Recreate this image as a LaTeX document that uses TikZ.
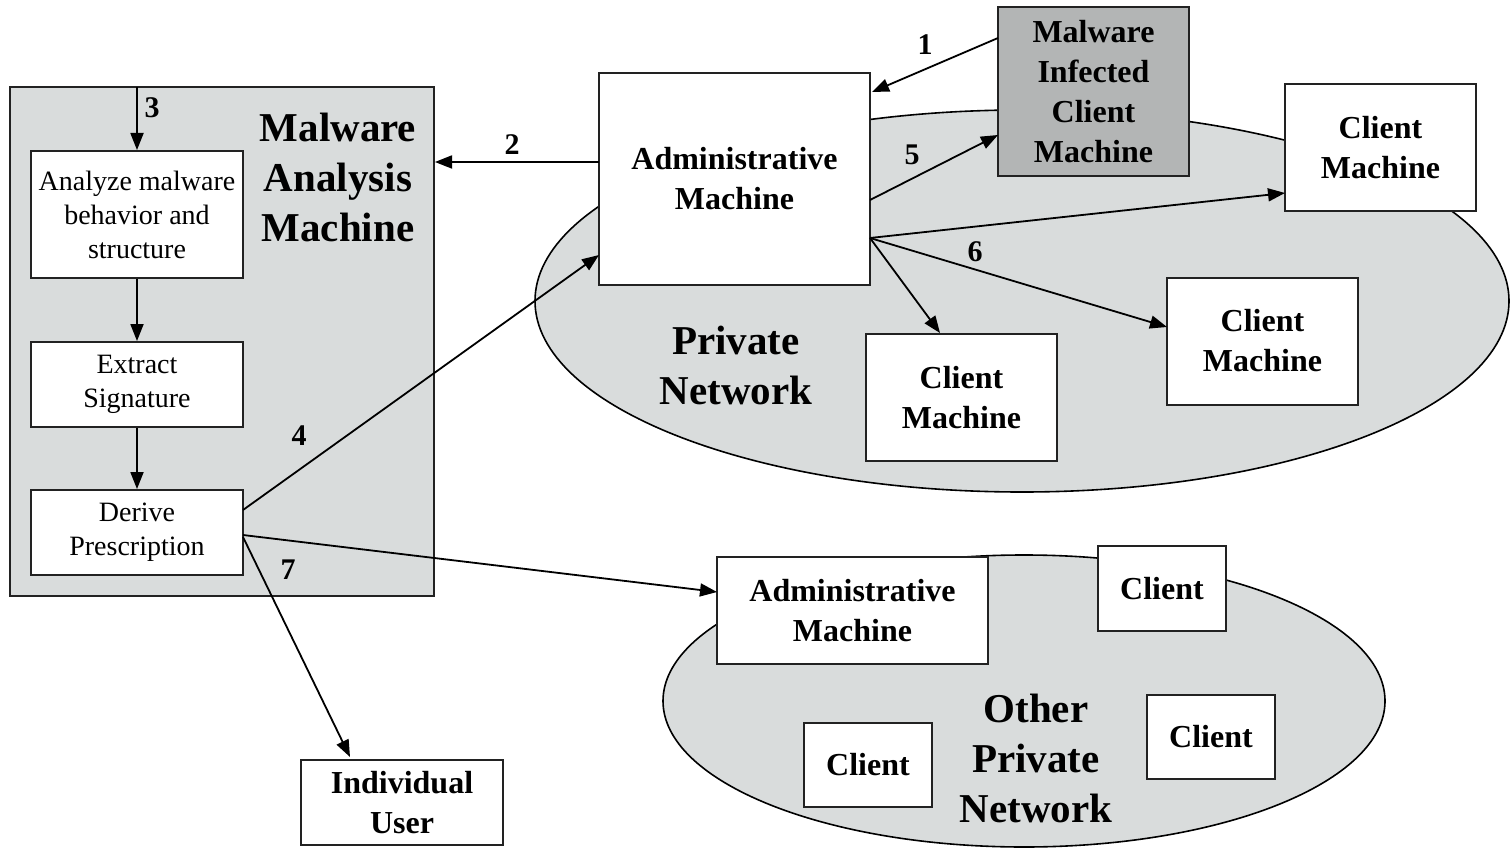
\documentclass[tikz,border=0pt]{standalone}
\usepackage{fontspec}
\setmainfont{Liberation Serif}
\usetikzlibrary{arrows.meta,calc,shapes.geometric}
\definecolor{panel}{HTML}{D9DCDC}
\definecolor{infect}{HTML}{B3B5B5}
\definecolor{edge}{HTML}{222222}
\tikzset{
  box/.style={draw=edge, line width=2pt, fill=white, inner sep=0pt, align=center},
  bigbold/.style={font=\fontsize{41}{50}\selectfont\bfseries, align=center, inner sep=0pt},
  midbold/.style={font=\fontsize{32}{40}\selectfont\bfseries},
  plain/.style={font=\fontsize{28}{34}\selectfont},
  numlbl/.style={font=\fontsize{30}{30}\selectfont\bfseries, inner sep=0pt},
  conn/.style={draw=black, line width=1.8pt, -{Triangle[length=17pt,width=13pt]}},
  net/.style={draw=black, line width=1.6pt, fill=panel, ellipse, inner sep=0pt}
}
\begin{document}
\begin{tikzpicture}[x=1pt,y=-1pt]
\useasboundingbox (0,0) rectangle (1511,850);
% analysis machine panel
\node[draw=edge, line width=2pt, fill=panel, minimum width=424pt, minimum height=509pt, inner sep=0pt] (anal) at (222,341.5) {};
\node[bigbold] (analt) at (338,177) {Malware\\Analysis\\Machine};
% networks
\node[net, minimum width=974pt, minimum height=382pt] (pn) at (1022,301) {};
\node[net, minimum width=722pt, minimum height=292pt] (opn) at (1024,701) {};
\node[bigbold] (pnt) at (736,365) {Private\\Network};
\node[bigbold] (opnt) at (1036,758) {Other\\Private\\Network};
% analysis steps
\node[box, plain, minimum width=212pt, minimum height=127pt] (an1) at (137,214.5) {Analyze malware\\behavior and\\structure};
\node[box, plain, minimum width=212pt, minimum height=85pt] (ext) at (137,384.5) {Extract\\Signature};
\node[box, plain, minimum width=212pt, minimum height=85pt] (der) at (137,532.5) {Derive\\Prescription};
% machines
\node[box, midbold, minimum width=271pt, minimum height=212pt] (adm) at (734.5,179) {Administrative\\Machine};
\node[box, midbold, fill=infect, minimum width=191pt, minimum height=169pt] (inf) at (1093.5,91.5) {Malware\\Infected\\Client\\Machine};
\node[box, midbold, minimum width=191pt, minimum height=127pt] (c1) at (1380.5,147.5) {Client\\Machine};
\node[box, midbold, minimum width=191pt, minimum height=127pt] (c2) at (961.5,397.5) {Client\\Machine};
\node[box, midbold, minimum width=191pt, minimum height=127pt] (c3) at (1262.5,341) {Client\\Machine};
\node[box, midbold, minimum width=202pt, minimum height=85pt] (user) at (402,802.5) {Individual\\User};
\node[box, midbold, minimum width=271pt, minimum height=107pt] (oadm) at (852.5,610.5) {Administrative\\Machine};
\node[box, midbold, minimum width=128pt, minimum height=85pt] (oc1) at (1162,588.5) {Client};
\node[box, midbold, minimum width=128pt, minimum height=84pt] (oc2) at (868,765) {Client};
\node[box, midbold, minimum width=128pt, minimum height=84pt] (oc3) at (1211,737) {Client};
% connector end points
\coordinate (top3) at (137,87);
\coordinate (s2) at (599,162);
\coordinate (s1) at (998,38);
\coordinate (e1) at (872,92);
\coordinate (s5) at (870,200);
\coordinate (e5) at (998,135);
\coordinate (s6) at (870,238);
\coordinate (ec1) at (1285,193);
\coordinate (ec3) at (1167,327);
\coordinate (ec2) at (940,333);
\coordinate (s4) at (243,510);
\coordinate (e4) at (599,255);
\coordinate (s7) at (243,535);
\coordinate (e7) at (717,592);
\coordinate (s8) at (243,537);
\coordinate (e8) at (350,757);
% connectors
\draw[conn] (top3) -- (an1.north);
\draw[conn] (an1.south) -- (ext.north);
\draw[conn] (ext.south) -- (der.north);
\draw[conn] (s2) -- (s2 -| anal.east);
\draw[conn] (s1) -- (e1);
\draw[conn] (s5) -- (e5);
\draw[conn] (s6) -- (ec1);
\draw[conn] (s6) -- (ec3);
\draw[conn] (s6) -- (ec2);
\draw[conn] (s4) -- (e4);
\draw[conn] (s7) -- (e7);
\draw[conn] (s8) -- (e8);
% labels
\node[numlbl] (l1) at (925,45) {1};
\node[numlbl] (l2) at (512,145) {2};
\node[numlbl] (l3) at (152,108) {3};
\node[numlbl] (l4) at (299,436) {4};
\node[numlbl] (l5) at (912,155) {5};
\node[numlbl] (l6) at (975,252) {6};
\node[numlbl] (l7) at (288,570) {7};
\end{tikzpicture}
\end{document}
